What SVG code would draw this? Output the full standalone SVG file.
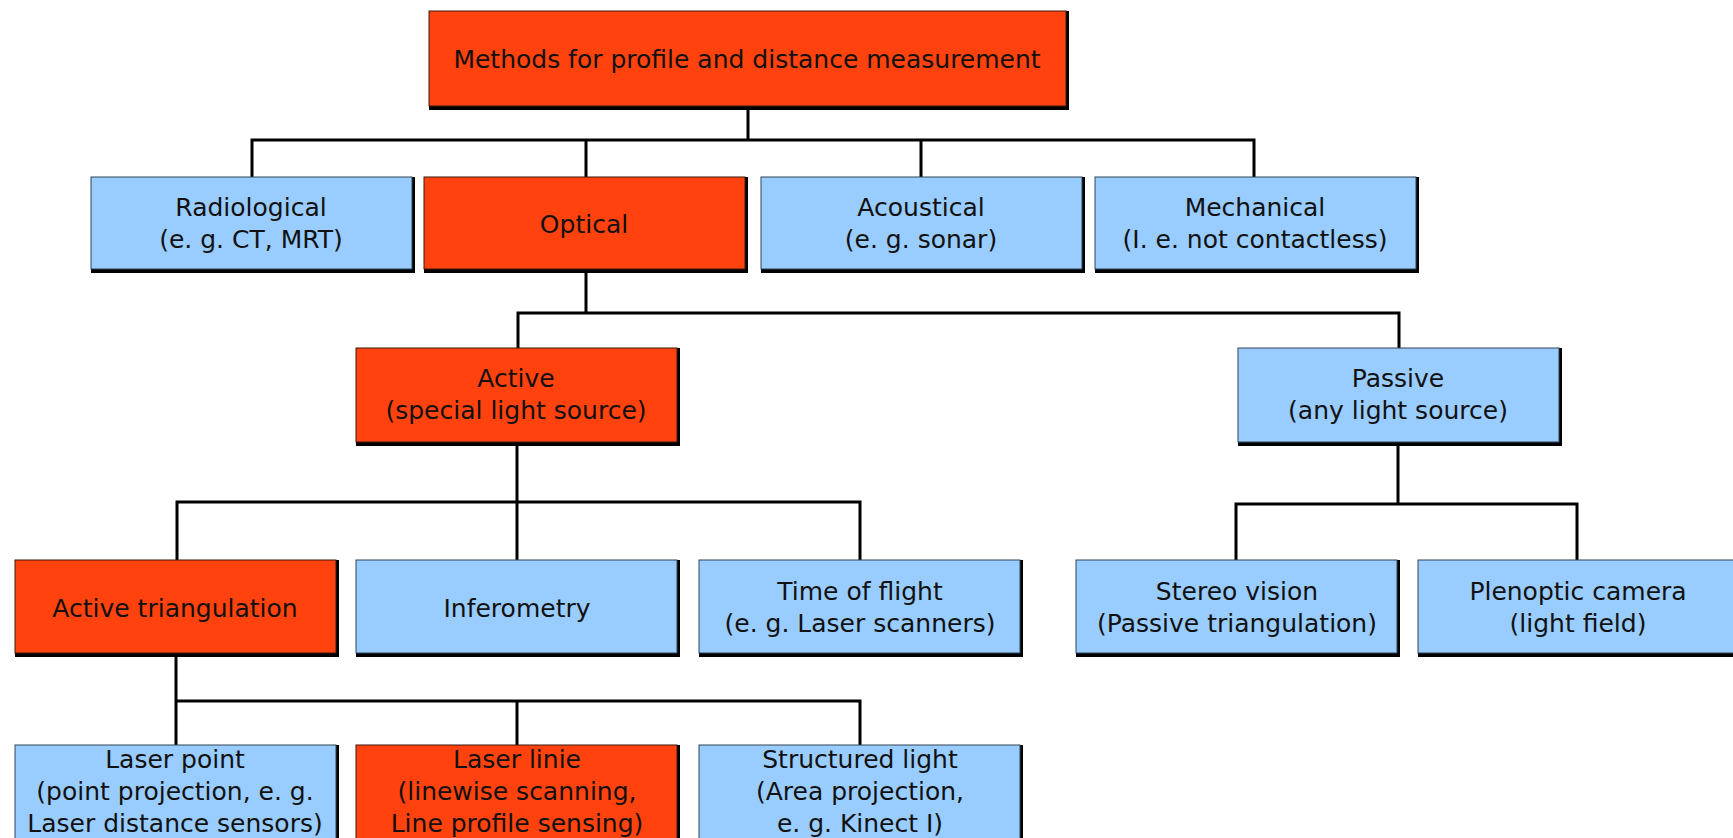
<svg xmlns="http://www.w3.org/2000/svg" width="1733" height="838" viewBox="0 0 1733 838">
<style>
.sh{fill:#000}
.r{fill:#ff420e;stroke:#3a1a10;stroke-width:1}
.b{fill:#99ccff;stroke:#334455;stroke-width:1}
text{font-family:"DejaVu Sans","Liberation Sans",sans-serif;font-size:25px;fill:#111;text-anchor:middle}
.c{stroke:#000;stroke-width:3;fill:none;stroke-linecap:square}
</style>
<rect width="1733" height="838" fill="#fff"/>
<g id="connectors">
<path class="c" d="M748 106V140M252 140H1254M252 140V177M586 140V177M921 140V177M1254 140V177"/>
<path class="c" d="M586 273V313M518 313H1399M518 313V348M1399 313V348"/>
<path class="c" d="M517 446V502M177 502H860M177 502V560M517 502V560M860 502V560"/>
<path class="c" d="M1398 446V504M1236 504H1577M1236 504V560M1577 504V560"/>
<path class="c" d="M176 657V701M176 701H860M176 701V745M517 701V745M860 701V745"/>
</g>
<g id="n-methods"><rect class="sh" x="429" y="11" width="640" height="99"/><rect class="r" x="429" y="11" width="637" height="95"/><text x="747" y="68">Methods for profile and distance measurement</text></g>
<g id="n-radiological"><rect class="sh" x="91" y="177" width="324" height="96"/><rect class="b" x="91" y="177" width="321" height="92"/><text x="251" y="216">Radiological</text><text x="251" y="248">(e. g. CT, MRT)</text></g>
<g id="n-optical"><rect class="sh" x="424" y="177" width="324" height="96"/><rect class="r" x="424" y="177" width="321" height="92"/><text x="584" y="233">Optical</text></g>
<g id="n-acoustical"><rect class="sh" x="761" y="177" width="324" height="96"/><rect class="b" x="761" y="177" width="321" height="92"/><text x="921" y="216">Acoustical</text><text x="921" y="248">(e. g. sonar)</text></g>
<g id="n-mechanical"><rect class="sh" x="1095" y="177" width="324" height="96"/><rect class="b" x="1095" y="177" width="321" height="92"/><text x="1255" y="216">Mechanical</text><text x="1255" y="248">(I. e. not contactless)</text></g>
<g id="n-active"><rect class="sh" x="356" y="348" width="324" height="98"/><rect class="r" x="356" y="348" width="321" height="94"/><text x="516" y="387">Active</text><text x="516" y="419">(special light source)</text></g>
<g id="n-passive"><rect class="sh" x="1238" y="348" width="324" height="98"/><rect class="b" x="1238" y="348" width="321" height="94"/><text x="1398" y="387">Passive</text><text x="1398" y="419">(any light source)</text></g>
<g id="n-activetri"><rect class="sh" x="15" y="560" width="324" height="97"/><rect class="r" x="15" y="560" width="321" height="93"/><text x="175" y="617">Active triangulation</text></g>
<g id="n-inferometry"><rect class="sh" x="356" y="560" width="324" height="97"/><rect class="b" x="356" y="560" width="321" height="93"/><text x="517" y="617">Inferometry</text></g>
<g id="n-tof"><rect class="sh" x="699" y="560" width="324" height="97"/><rect class="b" x="699" y="560" width="321" height="93"/><text x="860" y="600">Time of flight</text><text x="860" y="632">(e. g. Laser scanners)</text></g>
<g id="n-stereo"><rect class="sh" x="1076" y="560" width="324" height="97"/><rect class="b" x="1076" y="560" width="321" height="93"/><text x="1237" y="600">Stereo vision</text><text x="1237" y="632">(Passive triangulation)</text></g>
<g id="n-plenoptic"><rect class="sh" x="1418" y="560" width="324" height="97"/><rect class="b" x="1418" y="560" width="321" height="93"/><text x="1578" y="600">Plenoptic camera</text><text x="1578" y="632">(light field)</text></g>
<g id="n-laserpoint"><rect class="sh" x="15" y="745" width="324" height="114"/><rect class="b" x="15" y="745" width="321" height="110"/><text x="175" y="768">Laser point</text><text x="175" y="800">(point projection, e. g.</text><text x="175" y="832">Laser distance sensors)</text></g>
<g id="n-laserlinie"><rect class="sh" x="356" y="745" width="324" height="114"/><rect class="r" x="356" y="745" width="321" height="110"/><text x="517" y="768">Laser linie</text><text x="517" y="800">(linewise scanning,</text><text x="517" y="832">Line profile sensing)</text></g>
<g id="n-structured"><rect class="sh" x="699" y="745" width="324" height="114"/><rect class="b" x="699" y="745" width="321" height="110"/><text x="860" y="768">Structured light</text><text x="860" y="800">(Area projection,</text><text x="860" y="832">e. g. Kinect I)</text></g>
</svg>
